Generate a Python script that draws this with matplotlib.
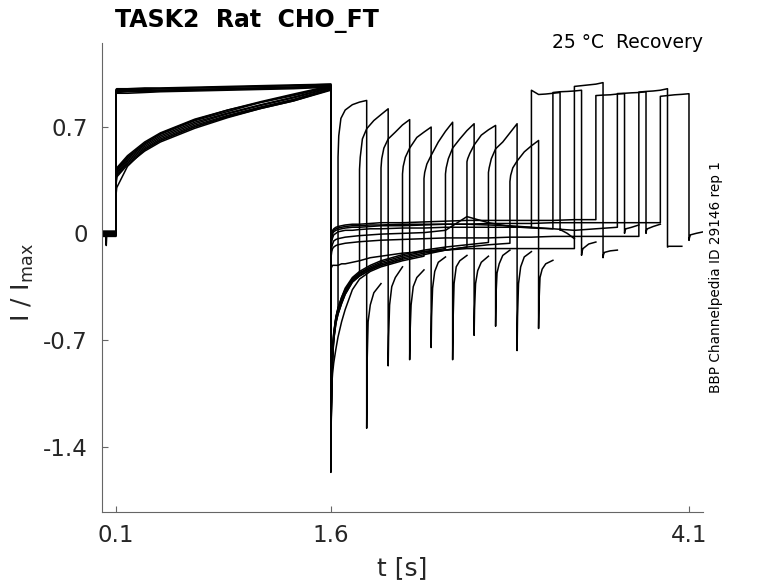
import numpy as np
import matplotlib
matplotlib.use("Agg")
import matplotlib.pyplot as plt

# ---- protocol times (s) ----
base_t = [0.0, 0.1]
pre_t = [0.1, 0.105, 0.18, 0.3, 0.41, 0.65, 0.88, 1.11, 1.34, 1.6]
tail_t = [1.6, 1.602, 1.606, 1.612, 1.62, 1.635, 1.65, 1.675, 1.7, 1.75, 1.8,
          1.875, 1.95, 2.1, 2.25, 2.4, 2.55, 2.7, 2.85, 3.0, 3.15, 3.3, 3.45,
          3.6, 3.75, 3.9]
test_dur = 0.2
pulse_rel_slow = [0, 0.005, 0.02, 0.05, 0.1, 0.15, 0.2]
post_rel_slow = [0, 0.003, 0.01, 0.025, 0.05, 0.1]
pulse_rel_fast = [0, 0.05, 0.1, 0.15, 0.2]
post_rel_fast = [0, 0.003, 0.01, 0.05, 0.1]

step_on_slow = [1.65, 1.80, 1.95, 2.10, 2.25, 2.40, 2.55, 2.70, 2.85]
step_on_fast = [3.00, 3.15, 3.30, 3.45, 3.60, 3.75, 3.90]

# ---- slowly activating sweeps ----
base_slow = [-0.01, 0.0, -0.015, 0.005, -0.02, 0.0, -0.01, 0.01, -0.005]
pre_slow = [
    [0.36, 0.42, 0.50, 0.59, 0.65, 0.74, 0.80, 0.86, 0.91, 0.965],
    [0.33, 0.39, 0.47, 0.56, 0.62, 0.71, 0.775, 0.83, 0.88, 0.95],
    [0.38, 0.43, 0.51, 0.60, 0.66, 0.75, 0.81, 0.865, 0.915, 0.97],
    [0.31, 0.37, 0.45, 0.54, 0.60, 0.69, 0.76, 0.82, 0.87, 0.94],
    [0.25, 0.30, 0.44, 0.55, 0.61, 0.70, 0.77, 0.825, 0.875, 0.945],
    [0.35, 0.41, 0.49, 0.58, 0.64, 0.73, 0.79, 0.845, 0.895, 0.96],
    [0.32, 0.38, 0.46, 0.55, 0.61, 0.70, 0.765, 0.82, 0.87, 0.945],
    [0.37, 0.42, 0.50, 0.59, 0.655, 0.745, 0.81, 0.86, 0.905, 0.965],
    [0.34, 0.40, 0.48, 0.57, 0.63, 0.72, 0.785, 0.84, 0.89, 0.955],
]
tail_slow = [
    [-1.57, -1.25, -0.98, -0.80, -0.68, -0.57, -0.52],
    [-1.50, -1.20, -0.95, -0.78, -0.66, -0.56, -0.50, -0.44, -0.38, -0.31, -0.27],
    [-1.42, -1.15, -0.92, -0.76, -0.65, -0.55, -0.49, -0.42, -0.37, -0.30, -0.26,
     -0.23, -0.20],
    [-1.55, -1.28, -1.00, -0.82, -0.70, -0.59, -0.53, -0.46, -0.40, -0.32, -0.28,
     -0.24, -0.21, -0.17],
    [-1.35, -1.15, -1.00, -0.92, -0.85, -0.76, -0.68, -0.58, -0.50, -0.37, -0.30,
     -0.25, -0.22, -0.18, -0.15],
    [-1.48, -1.22, -0.97, -0.79, -0.67, -0.56, -0.50, -0.43, -0.37, -0.30, -0.26,
     -0.22, -0.19, -0.15, -0.12, -0.10],
    [-1.52, -1.24, -0.99, -0.81, -0.69, -0.58, -0.52, -0.45, -0.39, -0.31, -0.27,
     -0.23, -0.20, -0.16, -0.13, -0.11, -0.09],
    [-1.45, -1.18, -0.94, -0.77, -0.66, -0.55, -0.49, -0.42, -0.36, -0.29, -0.25,
     -0.21, -0.18, -0.14, -0.11, -0.09, -0.075, -0.06],
    [-1.53, -1.26, -1.00, -0.82, -0.70, -0.59, -0.53, -0.46, -0.40, -0.32, -0.28,
     -0.24, -0.21, -0.17, -0.14, -0.11, -0.09, -0.075, -0.065],
]
pulse_slow = [
    [0.50, 0.64, 0.755, 0.81, 0.845, 0.862, 0.873],
    [0.42, 0.50, 0.62, 0.687, 0.741, 0.78, 0.818],
    [0.43, 0.49, 0.56, 0.62, 0.665, 0.712, 0.747],
    [0.39, 0.44, 0.50, 0.56, 0.63, 0.665, 0.698],
    [0.36, 0.40, 0.455, 0.512, 0.60, 0.67, 0.73],
    [0.39, 0.43, 0.49, 0.56, 0.62, 0.675, 0.72],
    [0.47, 0.49, 0.525, 0.58, 0.645, 0.68, 0.709],
    [0.40, 0.43, 0.49, 0.555, 0.60, 0.66, 0.72],
    [0.34, 0.38, 0.43, 0.475, 0.535, 0.575, 0.61],
]
post_slow = [
    [-1.28, -0.85, -0.58, -0.47, -0.39, -0.33],
    [-0.87, -0.68, -0.47, -0.35, -0.29, -0.22],
    [-0.83, -0.65, -0.47, -0.35, -0.29, -0.24],
    [-0.75, -0.55, -0.36, -0.25, -0.19, -0.155],
    [-0.83, -0.58, -0.33, -0.22, -0.18, -0.145],
    [-0.67, -0.50, -0.33, -0.245, -0.19, -0.15],
    [-0.61, -0.40, -0.26, -0.20, -0.145, -0.11],
    [-0.77, -0.55, -0.33, -0.22, -0.155, -0.12],
    [-0.625, -0.45, -0.29, -0.235, -0.20, -0.177],
]

# ---- instantaneous sweeps ----
base_fast = [0.0, 0.01, -0.01, 0.005, -0.005, 0.015, 0.0]
pre_fast = [
    [0.93, 0.935, 0.935, 0.94, 0.94, 0.945, 0.95, 0.955, 0.96, 0.97],
    [0.92, 0.925, 0.93, 0.93, 0.935, 0.94, 0.945, 0.95, 0.955, 0.965],
    [0.945, 0.95, 0.95, 0.955, 0.955, 0.96, 0.965, 0.97, 0.975, 0.98],
    [0.915, 0.92, 0.92, 0.925, 0.93, 0.935, 0.94, 0.945, 0.95, 0.96],
    [0.935, 0.94, 0.94, 0.945, 0.95, 0.955, 0.96, 0.965, 0.97, 0.975],
    [0.925, 0.93, 0.935, 0.935, 0.94, 0.945, 0.95, 0.955, 0.96, 0.97],
    [0.94, 0.945, 0.945, 0.95, 0.95, 0.955, 0.96, 0.965, 0.97, 0.98],
]
tail_fast = [
    [-0.12, -0.08, -0.05, -0.03, -0.01, 0.0, 0.01, 0.015, 0.02, 0.02, 0.025, 0.03,
     0.03, 0.035, 0.035, 0.04, 0.04, 0.04, 0.04, 0.04],
    [-0.10, -0.06, -0.03, 0.0, 0.02, 0.03, 0.035, 0.04, 0.045, 0.05, 0.05, 0.055,
     0.055, 0.06, 0.06, 0.06, 0.06, 0.055, 0.05, 0.04, 0.03],
    [-0.25, -0.23, -0.22, -0.21, -0.21, -0.21, -0.21, -0.2, -0.2, -0.19, -0.18,
     -0.16, -0.15, -0.13, -0.12, -0.11, -0.1, -0.1, -0.1, -0.1, -0.1, -0.1],
    [-0.05, -0.02, 0.0, 0.02, 0.03, 0.04, 0.045, 0.05, 0.055, 0.06, 0.06, 0.065,
     0.07, 0.07, 0.075, 0.08, 0.085, 0.085, 0.085, 0.085, 0.085, 0.09, 0.09],
    [-0.15, -0.12, -0.09, -0.07, -0.05, -0.04, -0.035, -0.03, -0.025, -0.02, -0.015,
     -0.01, -0.005, 0.0, 0.005, 0.02, 0.11, 0.07, 0.045, 0.035, 0.03, 0.02, 0.03,
     0.04],
    [-0.18, -0.15, -0.12, -0.1, -0.09, -0.08, -0.075, -0.07, -0.065, -0.06, -0.055,
     -0.05, -0.045, -0.04, -0.035, -0.03, -0.03, -0.03, -0.025, -0.025, -0.02,
     -0.02, -0.02, -0.02, -0.02],
    [-0.08, -0.05, -0.02, 0.0, 0.01, 0.02, 0.025, 0.03, 0.035, 0.04, 0.04, 0.045,
     0.05, 0.05, 0.055, 0.06, 0.06, 0.065, 0.065, 0.065, 0.07, 0.07, 0.07, 0.07,
     0.07, 0.07],
]
pulse_fast = [
    [0.94, 0.912, 0.915, 0.92, 0.925],
    [0.925, 0.93, 0.932, 0.935, 0.94],
    [0.965, 0.97, 0.975, 0.98, 0.99],
    [0.905, 0.908, 0.91, 0.915, 0.918],
    [0.918, 0.92, 0.923, 0.925, 0.93],
    [0.928, 0.932, 0.935, 0.94, 0.95],
    [0.90, 0.905, 0.91, 0.913, 0.917],
]
post_fast = [
    [0.02, 0.03, 0.02, 0.0, -0.035],
    [-0.144, -0.12, -0.10, -0.07, -0.057],
    [-0.16, -0.14, -0.125, -0.115, -0.11],
    [0.0, 0.02, 0.03, 0.04, 0.055],
    [0.0, 0.02, 0.03, 0.045, 0.06],
    [-0.09, -0.088, -0.085, -0.085, -0.085],
    [-0.046, -0.03, -0.01, 0.0, 0.01],
]

# small artefact on the baseline of one sweep
spike_t = [0.028, 0.032, 0.036]
spike_v = [0.0, -0.08, 0.0]


def sweep(base, pre, tail, on, pulse, pulse_rel, post, post_rel):
    n = len(tail)
    t = (list(base_t) + list(pre_t) + list(tail_t[:n])
         + list(on + np.array(pulse_rel))
         + list(on + test_dur + np.array(post_rel)))
    v = [base, base] + list(pre) + list(tail) + list(pulse) + list(post)
    return t, v


fig = plt.figure(figsize=(7.78, 5.83), dpi=100)
ax = fig.add_axes([0.1307, 0.1218, 0.7733, 0.8044])

for i in range(len(step_on_slow)):
    t, v = sweep(base_slow[i], pre_slow[i], tail_slow[i], step_on_slow[i],
                 pulse_slow[i], pulse_rel_slow, post_slow[i], post_rel_slow)
    ax.plot(t, v, color="k", lw=1.1)

for i in range(len(step_on_fast)):
    t, v = sweep(base_fast[i], pre_fast[i], tail_fast[i], step_on_fast[i],
                 pulse_fast[i], pulse_rel_fast, post_fast[i], post_rel_fast)
    ax.plot(t, v, color="k", lw=1.1)

ax.plot(spike_t, spike_v, color="k", lw=1.1)

ax.set_xlim(0, 4.2)
ax.set_ylim(-1.83, 1.25)
ax.set_xticks([0.1, 1.6, 4.1])
ax.set_xticklabels(["0.1", "1.6", "4.1"])
ax.set_yticks([-1.4, -0.7, 0, 0.7])
ax.set_yticklabels(["-1.4", "-0.7", "0", "0.7"])
ax.tick_params(direction="in", length=4, width=0.8, colors="#666666",
               labelcolor="#262626", labelsize=16.5)
ax.tick_params(axis="x", pad=9)
ax.tick_params(axis="y", pad=10)
for s in ["top", "right"]:
    ax.spines[s].set_visible(False)
for s in ["left", "bottom"]:
    ax.spines[s].set_color("#666666")
    ax.spines[s].set_linewidth(0.8)

ax.set_xlabel("t [s]", fontsize=18, color="#262626", labelpad=6)
ax.set_ylabel(r"I / I$_{\mathregular{max}}$", fontsize=18, color="#262626")
ax.yaxis.set_label_coords(-0.11, 0.49)

fig.text(0.148, 0.954, "TASK2  Rat  CHO_FT", fontsize=17, fontweight="bold",
         ha="left", va="baseline")
fig.text(0.9036, 0.918, "25 °C  Recovery", fontsize=13.5, ha="right",
         va="baseline")
fig.text(0.920, 0.525, "BBP Channelpedia ID 29146 rep 1", fontsize=9.8,
         rotation=90, ha="center", va="center")

fig.savefig("out.png", dpi=100)
